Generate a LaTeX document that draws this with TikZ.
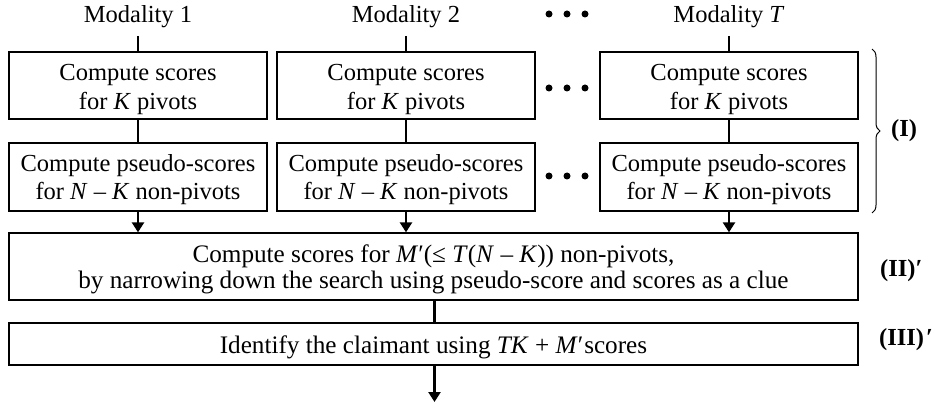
\documentclass[tikz,border=0pt]{standalone}
\usepackage{fontspec}
\setmainfont{Liberation Serif}
\usetikzlibrary{arrows.meta,decorations.pathreplacing}
\newcommand{\lowr}[2]{\raisebox{-#1}[\height][\depth]{#2}}
\begin{document}
\begin{tikzpicture}[x=1pt,y=-1pt,
  box/.style={draw,line width=1.3pt,minimum width=258pt,inner sep=0pt,align=center,font=\fontsize{24.5}{28}\selectfont},
  wbox/.style={draw,line width=1.3pt,minimum width=849pt,inner sep=0pt,align=center,font=\fontsize{25.2}{26}\selectfont},
  lab/.style={inner sep=0pt,font=\fontsize{24.5}{28}\selectfont},
  blab/.style={inner sep=0pt,anchor=west,font=\fontsize{24.5}{28}\selectfont\bfseries},
  conn/.style={line width=2.4pt},
  arr/.style={line width=2.4pt,-{Triangle[length=10pt,width=12pt]}},
  dot/.style={circle,fill,inner sep=0pt,minimum size=7pt}]
\useasboundingbox (0,0) rectangle (932,403);
% modality labels
\node[lab] (m1) at (138,16.5) {Modality 1};
\node[lab] (m2) at (406,16.5) {Modality 2};
\node[lab] (mT) at (729,16.5) {Modality \textit{T}};
\node[dot] (d1) at (549,14) {}; \node[dot] (d2) at (567,14) {}; \node[dot] (d3) at (585,14) {};
% boxes row 1
\node[box,minimum height=67pt] (a1) at (138,85.5) {\lowr{4pt}{\parbox{258pt}{\centering Compute scores\\[1pt]for \textit{K} pivots}}};
\node[box,minimum height=67pt] (a2) at (406,85.5) {\lowr{4pt}{\parbox{258pt}{\centering Compute scores\\[1pt]for \textit{K} pivots}}};
\node[box,minimum height=67pt] (a3) at (729,85.5) {\lowr{4pt}{\parbox{258pt}{\centering Compute scores\\[1pt]for \textit{K} pivots}}};
\node[dot] (e1) at (549,88) {}; \node[dot] (e2) at (567,88) {}; \node[dot] (e3) at (585,88) {};
% boxes row 2
\node[box,minimum height=68pt] (b1) at (138,177) {\lowr{2.5pt}{\parbox{258pt}{\centering Compute pseudo-scores\\for \textit{N} – \textit{K} non-pivots}}};
\node[box,minimum height=68pt] (b2) at (406,177) {\lowr{2.5pt}{\parbox{258pt}{\centering Compute pseudo-scores\\for \textit{N} – \textit{K} non-pivots}}};
\node[box,minimum height=68pt] (b3) at (729,177) {\lowr{2.5pt}{\parbox{258pt}{\centering Compute pseudo-scores\\for \textit{N} – \textit{K} non-pivots}}};
\node[dot] (f1) at (549,176) {}; \node[dot] (f2) at (567,176) {}; \node[dot] (f3) at (585,176) {};
% wide boxes
\node[wbox,minimum height=67pt] (c) at (433.5,266.5) {\lowr{3pt}{\parbox{849pt}{\centering Compute scores for \textit{M}′(≤ \textit{T}(\textit{N} – \textit{K})) non-pivots,\\by narrowing down the search using pseudo-score and scores as a clue}}};
\node[wbox,minimum height=42pt] (d) at (433.5,344) {\lowr{3pt}{Identify the claimant using \textit{TK} + \textit{M}′\kern1pt scores}};
% connectors
\coordinate (t1) at (138,36); \coordinate (t2) at (406,36); \coordinate (t3) at (729,36);
\draw[conn] (t1) -- (a1.north); \draw[conn] (t2) -- (a2.north); \draw[conn] (t3) -- (a3.north);
\draw[conn] (a1) -- (b1); \draw[conn] (a2) -- (b2); \draw[conn] (a3) -- (b3);
\draw[arr] (b1.south) -- (b1.south |- c.north);
\draw[arr] (b2.south) -- (b2.south |- c.north);
\draw[arr] (b3.south) -- (b3.south |- c.north);
\coordinate (cx) at (434.5,300);
\draw[conn] (c.south -| cx) -- (d.north -| cx);
\coordinate (out) at (434.5,402);
\draw[arr] (d.south -| out) -- (out);
% brace and labels
\coordinate (br1) at (872,49); \coordinate (br2) at (872,213);
\draw[line width=1pt,decorate,decoration={brace,amplitude=8pt,aspect=0.5}] (br1) -- (br2);
\node[blab] (l1) at (891,131) {(I)};
\node[blab] (l2) at (880,271) {(II)′};
\node[blab] (l3) at (879,340) {(III)\kern2pt′};
\end{tikzpicture}
\end{document}
